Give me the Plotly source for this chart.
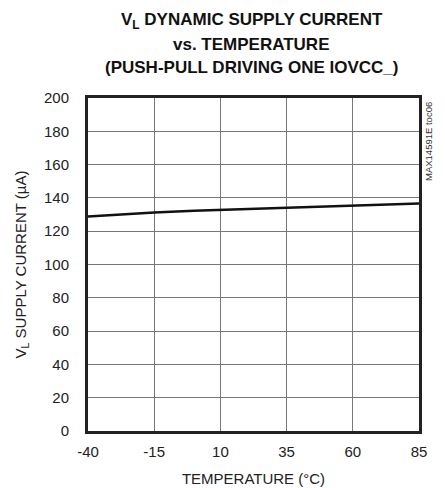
import plotly.graph_objects as go

temperature = [-40, -30, -15, 0, 10, 25, 35, 50, 60, 75, 85]
current = [128.9, 129.9, 131.3, 132.3, 132.8, 133.7, 134.2, 135.0, 135.5, 136.2, 136.7]

x_ticks = [-40, -15, 10, 35, 60, 85]
x_tick_labels = ["-40", "-15", "10", "35", "60", "85"]
y_ticks = [0, 20, 40, 60, 80, 100, 120, 140, 160, 180, 200]

title_lines = ["V<sub>L</sub> DYNAMIC SUPPLY CURRENT", "vs. TEMPERATURE", "(PUSH-PULL DRIVING ONE IOVCC_)"]

FONT = "Liberation Sans Narrow, Arial Narrow, Liberation Sans, sans-serif"

W, H = 437, 480
ML, MR, MT, MB = 80, 26, 90, 57

fig = go.Figure()
fig.add_trace(go.Scatter(x=temperature, y=current, mode="lines",
                         line=dict(color="#111111", width=2.5), showlegend=False))

fig.update_layout(
    width=W, height=H,
    margin=dict(l=ML, r=MR, t=MT, b=MB, autoexpand=False),
    paper_bgcolor="white", plot_bgcolor="white",
    font=dict(family=FONT, size=15, color="#222222"),
    xaxis=dict(
        range=[-40, 85], tickvals=x_ticks, ticktext=x_tick_labels, ticks="", showgrid=True,
        gridcolor="#777777", gridwidth=1, zeroline=False, automargin=False,
        showline=True, linecolor="#222222", linewidth=3, mirror=True,
        ticklabelstandoff=5,
        title=dict(text="TEMPERATURE (°C)", standoff=15, font=dict(size=15)),
        tickfont=dict(size=15),
    ),
    yaxis=dict(
        range=[0, 200], tickvals=y_ticks, ticks="", showgrid=True,
        gridcolor="#777777", gridwidth=1, zeroline=False, automargin=False,
        showline=True, linecolor="#222222", linewidth=3, mirror=True,
        ticklabelstandoff=13,
        title=dict(text="V<sub>L</sub> SUPPLY CURRENT (µA)", standoff=14, font=dict(size=15)),
        tickfont=dict(size=15),
    ),
)

plot_h = H - MT - MB
plot_bottom = H - MB
for line, ypix in zip(title_lines, [13, 36, 59]):
    fig.add_annotation(text="<b>" + line + "</b>", xref="paper", yref="paper",
                       x=0.495, y=(plot_bottom - ypix) / plot_h, xanchor="center", yanchor="middle",
                       showarrow=False, font=dict(family=FONT, size=17, color="#111111"))

fig.add_annotation(text="MAX14591E toc06", xref="paper", yref="paper",
                   x=1.0, y=1.0, xanchor="left", yanchor="top", textangle=-90, xshift=2, yshift=-2,
                   showarrow=False, font=dict(family=FONT, size=9.5, color="#333333"))

fig.write_html("out.html")
